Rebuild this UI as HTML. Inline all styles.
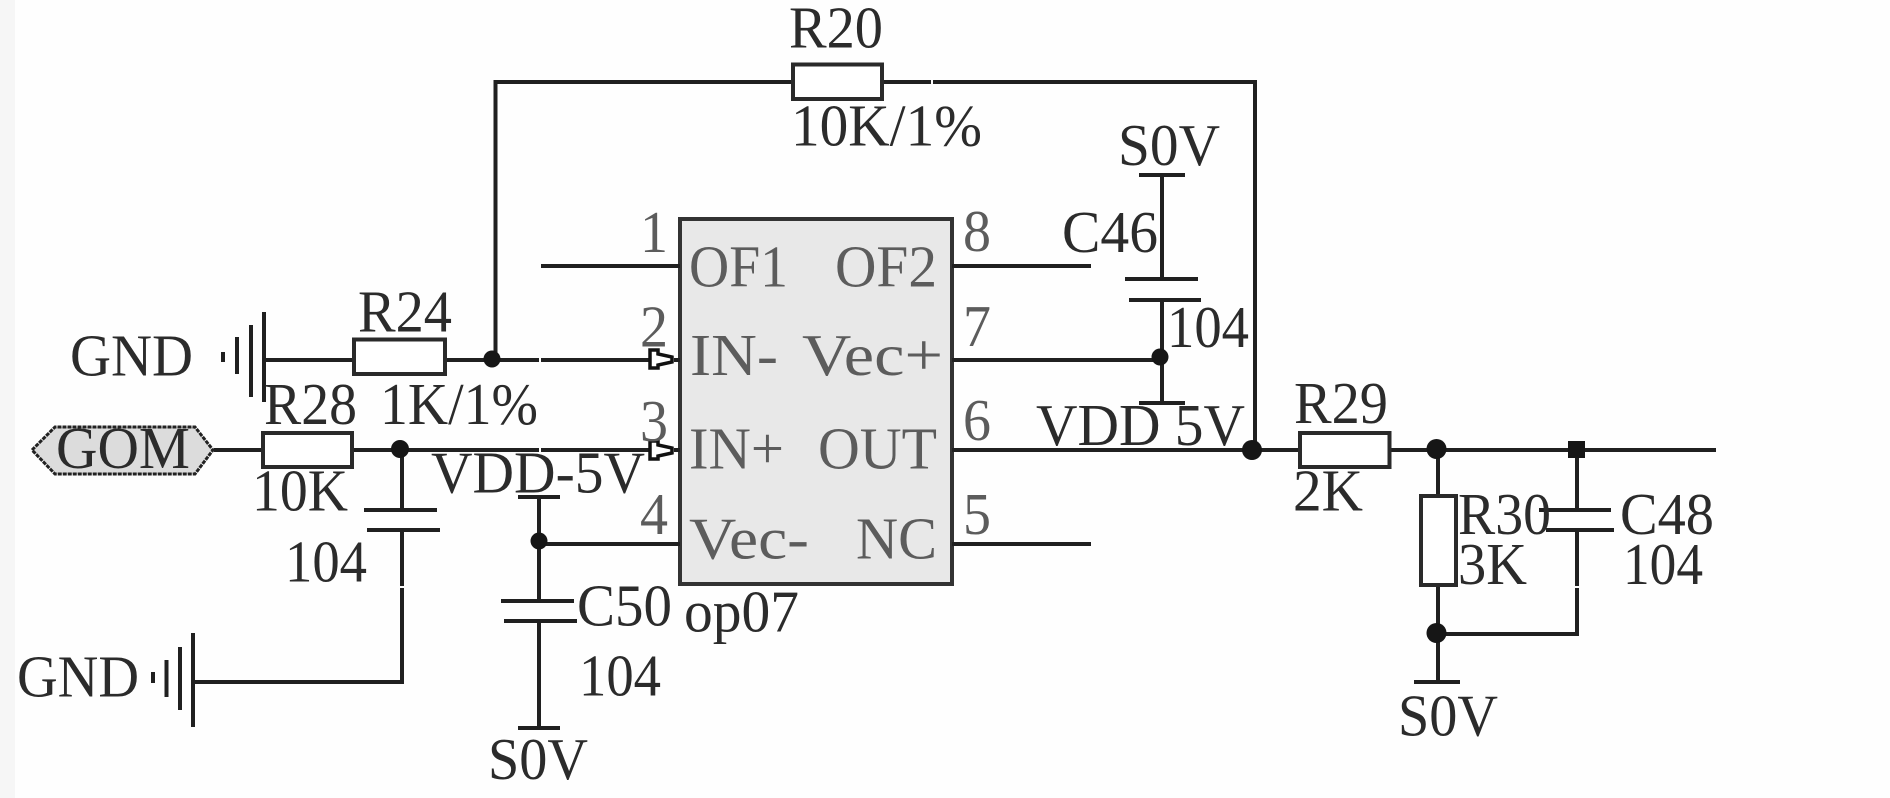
<!DOCTYPE html>
<html><head><meta charset="utf-8"><style>
html,body{margin:0;padding:0;background:#fff}
svg{display:block}
text{font-family:"Liberation Serif",serif;font-size:59px;fill:#2b2b2b}
.p{fill:#5c5c5c}
.w{stroke:#202020;stroke-width:4;fill:none}
.b{stroke:#2a2a2a;stroke-width:4;fill:#fff}
</style></head><body>
<svg width="1890" height="798" viewBox="0 0 1890 798" xmlns="http://www.w3.org/2000/svg">
<rect width="1890" height="798" fill="#fefefe"/>
<rect width="15" height="798" fill="#f6f6f6"/>
<!-- chip -->
<rect x="680" y="219" width="272" height="365" fill="#e8e8e8" stroke="#333" stroke-width="4"/>
<!-- wires -->
<path class="w" d="M495.500 360V82H793M882 82H1255V450"/>
<path class="w" d="M264 360H354M445 360H650M674 360H680"/>
<path class="w" d="M214 450H263M352 450H650M674 450H680"/>
<path class="w" d="M541 266H680M952 266H1091M952 360H1160M952 450H1300M952 544H1091M539 544H680"/>
<path class="w" d="M402 450V510M402 530V682H195"/>
<path class="w" d="M539 497V601M539 621V728"/>
<path class="w" d="M1162 175V279M1162 300V403"/>
<path class="w" d="M1389 450H1716M1438 450V496M1438 585V682M1436 634H1577V530M1577 450V510"/>
<!-- plates and bars -->
<path class="w" d="M364 510H437M367 530H440M501 601H574M504 621H577M518 497H560M518 728H560"/>
<path class="w" d="M1125 279H1198M1129 300H1201M1139 175H1185M1139 403H1185"/>
<path class="w" d="M1539 510H1611M1546 530H1614M1414 682H1460"/>
<!-- small breaks in the wires -->
<g fill="#fff">
<rect x="539" y="356" width="2" height="8"/>
<rect x="539" y="446" width="2" height="8"/>
<rect x="931" y="78" width="2" height="8"/>
<rect x="400" y="586" width="4" height="2"/>
<rect x="1575" y="586" width="4" height="2"/>
</g>
<!-- ground symbols -->
<path class="w" d="M223 352V362M237 337V374M251 325V397M264 312V402"/>
<path class="w" d="M153 672V683M166.500 660V697M180 647V710M193 633V727"/>
<!-- resistors -->
<rect class="b" x="354" y="339.500" width="91" height="34.500"/>
<rect class="b" x="263" y="433" width="89" height="34"/>
<rect class="b" x="793" y="64.500" width="89" height="34.500"/>
<rect class="b" x="1300" y="433" width="89.500" height="34"/>
<rect class="b" x="1421" y="496" width="35" height="89"/>
<!-- pin arrows -->
<path d="M650 350H658V354L672 357V362L658 365V368H650Z" fill="#fff" stroke="#111" stroke-width="3.500"/>
<path d="M650 441H658V445L672 448V453L658 456V459H650Z" fill="#fff" stroke="#111" stroke-width="3.500"/>
<!-- GOM -->
<path d="M32 450L55 427H195L213 450L195 474H55Z" fill="#dcdcdc" stroke="#222" stroke-width="3" stroke-dasharray="4 1"/>
<!-- junctions -->
<g fill="#161616">
<circle cx="492" cy="359" r="8.500"/>
<circle cx="400" cy="449" r="9"/>
<circle cx="539" cy="541" r="8.500"/>
<circle cx="1160" cy="357" r="8.500"/>
<circle cx="1252" cy="450" r="10"/>
<circle cx="1436.500" cy="449" r="10"/>
<circle cx="1436.500" cy="633" r="10"/>
<rect x="1568" y="441" width="17" height="17"/>
</g>
<!-- labels -->
<text x="70" y="375.700" textLength="123" lengthAdjust="spacingAndGlyphs">GND</text>
<text x="358" y="331.700" textLength="94" lengthAdjust="spacingAndGlyphs">R24</text>
<text x="264" y="424" textLength="93" lengthAdjust="spacingAndGlyphs">R28</text>
<text x="380" y="424" textLength="158" lengthAdjust="spacingAndGlyphs">1K/1%</text>
<text x="56" y="468" textLength="134" lengthAdjust="spacingAndGlyphs">GOM</text>
<text x="252" y="510.700" textLength="96" lengthAdjust="spacingAndGlyphs">10K</text>
<text x="285" y="581.700" textLength="82" lengthAdjust="spacingAndGlyphs">104</text>
<text x="431" y="492.700" textLength="214" lengthAdjust="spacingAndGlyphs">VDD-5V</text>
<text x="577" y="625.700" textLength="95" lengthAdjust="spacingAndGlyphs">C50</text>
<text x="579" y="695.700" textLength="82" lengthAdjust="spacingAndGlyphs">104</text>
<text x="17" y="696.700" textLength="122" lengthAdjust="spacingAndGlyphs">GND</text>
<text x="488" y="779" textLength="100" lengthAdjust="spacingAndGlyphs">S0V</text>
<text x="789" y="47.500" textLength="94" lengthAdjust="spacingAndGlyphs">R20</text>
<text x="791" y="145.500" textLength="191" lengthAdjust="spacingAndGlyphs">10K/1%</text>
<text x="1118" y="165" textLength="102" lengthAdjust="spacingAndGlyphs">S0V</text>
<text x="1062" y="252" textLength="96" lengthAdjust="spacingAndGlyphs">C46</text>
<text x="1167" y="347" textLength="82" lengthAdjust="spacingAndGlyphs">104</text>
<text x="1036" y="445" textLength="209" lengthAdjust="spacingAndGlyphs">VDD 5V</text>
<text x="1294" y="423" textLength="94" lengthAdjust="spacingAndGlyphs">R29</text>
<text x="1293" y="510.700" textLength="70" lengthAdjust="spacingAndGlyphs">2K</text>
<text x="1458" y="534" textLength="93" lengthAdjust="spacingAndGlyphs">R30</text>
<text x="1458" y="584" textLength="69" lengthAdjust="spacingAndGlyphs">3K</text>
<text x="1620" y="534" textLength="94" lengthAdjust="spacingAndGlyphs">C48</text>
<text x="1623" y="584" textLength="80" lengthAdjust="spacingAndGlyphs">104</text>
<text x="1398" y="735.600" textLength="100" lengthAdjust="spacingAndGlyphs">S0V</text>
<text x="684" y="631.600" textLength="115" lengthAdjust="spacingAndGlyphs">op07</text>
<!-- pin text -->
<text class="p" x="640" y="252" textLength="28" lengthAdjust="spacingAndGlyphs">1</text>
<text class="p" x="640" y="346.700" textLength="28" lengthAdjust="spacingAndGlyphs">2</text>
<text class="p" x="640" y="441" textLength="28" lengthAdjust="spacingAndGlyphs">3</text>
<text class="p" x="640" y="534" textLength="28" lengthAdjust="spacingAndGlyphs">4</text>
<text class="p" x="963" y="251" textLength="28" lengthAdjust="spacingAndGlyphs">8</text>
<text class="p" x="963" y="346" textLength="28" lengthAdjust="spacingAndGlyphs">7</text>
<text class="p" x="963" y="440" textLength="28" lengthAdjust="spacingAndGlyphs">6</text>
<text class="p" x="963" y="534" textLength="28" lengthAdjust="spacingAndGlyphs">5</text>
<text class="p" x="689" y="286.700" textLength="99" lengthAdjust="spacingAndGlyphs">OF1</text>
<text class="p" x="835" y="286.700" textLength="102" lengthAdjust="spacingAndGlyphs">OF2</text>
<text class="p" x="690" y="375" textLength="88" lengthAdjust="spacingAndGlyphs">IN-</text>
<text class="p" x="802" y="375" textLength="141" lengthAdjust="spacingAndGlyphs">Vec+</text>
<text class="p" x="689" y="468.500" textLength="95" lengthAdjust="spacingAndGlyphs">IN+</text>
<text class="p" x="818" y="468.500" textLength="119" lengthAdjust="spacingAndGlyphs">OUT</text>
<text class="p" x="689" y="558.700" textLength="120" lengthAdjust="spacingAndGlyphs">Vec-</text>
<text class="p" x="856" y="558.700" textLength="81" lengthAdjust="spacingAndGlyphs">NC</text>
</svg>
</body></html>
